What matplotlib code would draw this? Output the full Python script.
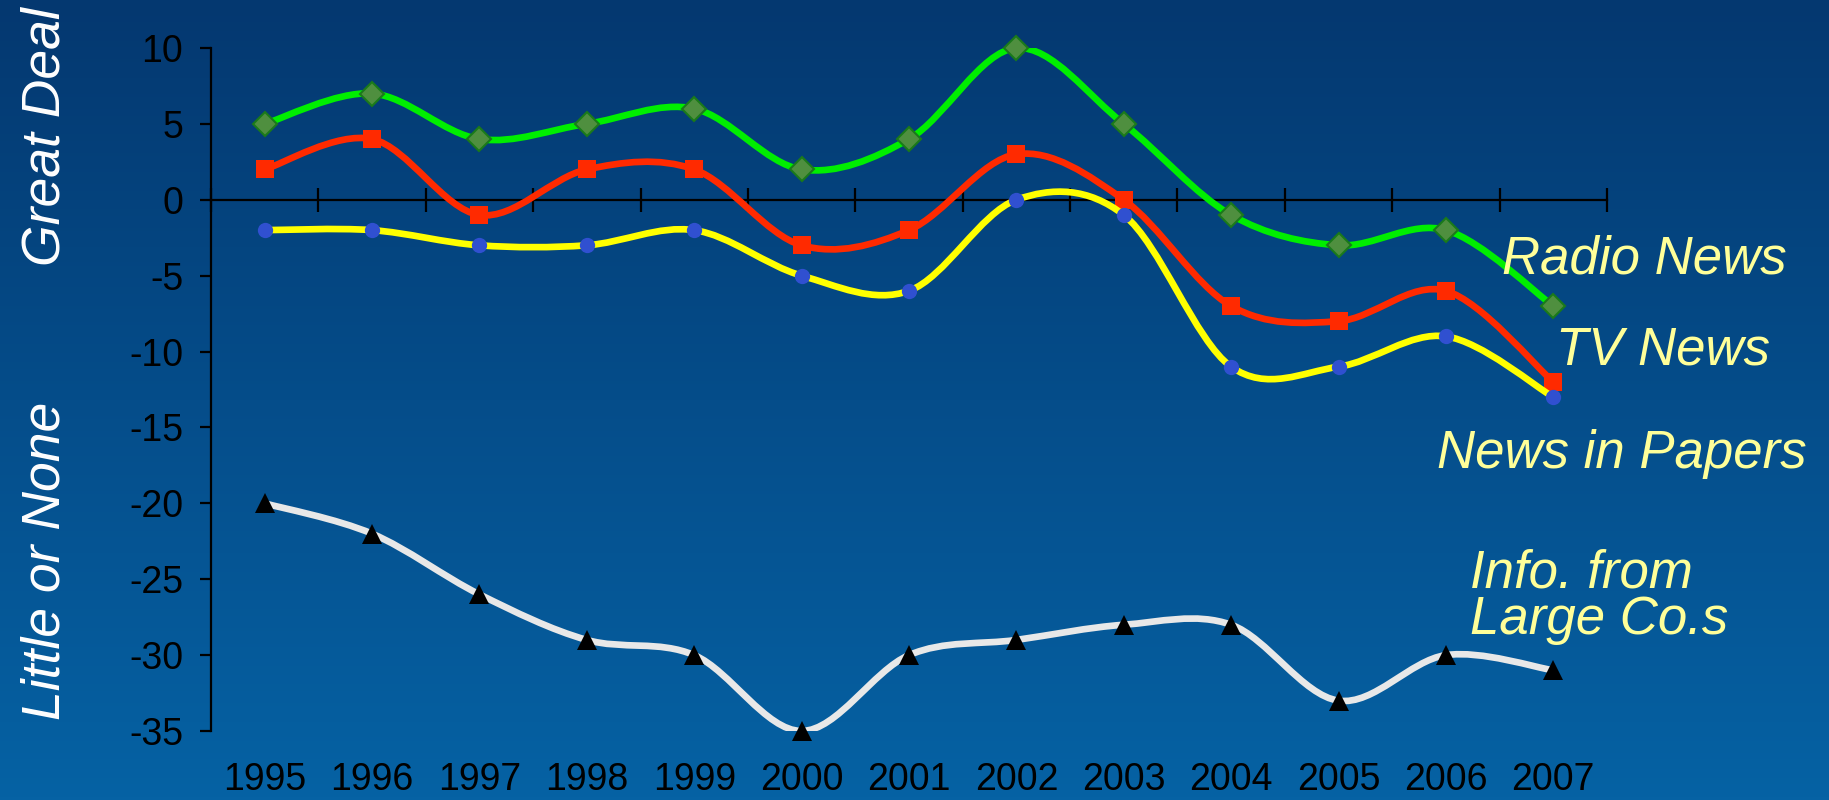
import numpy as np
import matplotlib
matplotlib.use("Agg")
import matplotlib.pyplot as plt
from matplotlib.path import Path
from matplotlib.patches import PathPatch

plt.rcParams['font.family'] = ['Liberation Sans', 'DejaVu Sans']

# ---- data ----
years = ["1995", "1996", "1997", "1998", "1999", "2000", "2001",
         "2002", "2003", "2004", "2005", "2006", "2007"]
radio_news = [5, 7, 4, 5, 6, 2, 4, 10, 5, -1, -3, -2, -7]
tv_news = [2, 4, -1, 2, 2, -3, -2, 3, 0, -7, -8, -6, -12]
news_in_papers = [-2, -2, -3, -3, -2, -5, -6, 0, -1, -11, -11, -9, -13]
info_large_cos = [-20, -22, -26, -29, -30, -35, -30, -29, -28, -28, -33, -30, -31]
y_ticks = [10, 5, 0, -5, -10, -15, -20, -25, -30, -35]
series_labels = ["Radio News", "TV News", "News in Papers", "Info. from\nLarge Co.s"]
side_labels = ["Great Deal", "Little or None"]

W, H = 1829, 800
fig = plt.figure(figsize=(W / 100, H / 100), dpi=100)

# gradient background
bg = fig.add_axes([0, 0, 1, 1], zorder=-10)
top = np.array([4, 56, 112]) / 255
bot = np.array([6, 98, 164]) / 255
t = np.linspace(0, 1, 256)[:, None]
grad = (top[None, :] * (1 - t) + bot[None, :] * t)[:, None, :]
bg.imshow(grad, aspect='auto', extent=[0, 1, 0, 1], origin='upper')
bg.axis('off')

L, R, T, B = 211, 1607, 48, 731
ax = fig.add_axes([L / W, 1 - B / H, (R - L) / W, (B - T) / H])
ax.patch.set_alpha(0)
ax.set_xlim(-0.5, len(years) - 0.5)
ax.set_ylim(-35, 10)

for s in ['top', 'right']:
    ax.spines[s].set_visible(False)
ax.spines['left'].set_linewidth(1.6)
ax.spines['bottom'].set_linewidth(1.6)
ax.spines['bottom'].set_position(('data', 0))

ax.set_yticks(y_ticks)
ax.set_yticklabels([str(v) for v in y_ticks], fontsize=27)
ax.tick_params(axis='y', direction='out', length=8, width=1.6, pad=12, colors='black')

ax.set_xticks(np.arange(-0.5, len(years), 1.0))
ax.set_xticklabels([])
ax.tick_params(axis='x', direction='inout', length=17, width=1.6)

xt = ax.get_xaxis_transform()
for i, yr in enumerate(years):
    ax.text(i, -(790 - B) / (B - T), yr, transform=xt, ha='center', va='baseline',
            fontsize=27, color='black')


def smooth_path(xs, ys):
    pts = np.column_stack([xs, ys]).astype(float)
    n = len(pts)
    verts = [pts[0]]
    codes = [Path.MOVETO]
    for i in range(n - 1):
        p0 = pts[i - 1] if i > 0 else pts[i]
        p1 = pts[i]
        p2 = pts[i + 1]
        p3 = pts[i + 2] if i + 2 < n else pts[i + 1]
        c1 = p1 + (p2 - p0) / 6.0
        c2 = p2 - (p3 - p1) / 6.0
        verts += [c1, c2, p2]
        codes += [Path.CURVE4] * 3
    return Path(verts, codes)


x = np.arange(len(years))
styles = [
    (radio_news, '#00ee00', dict(marker='D', ms=12.5, mfc='#4f8f3f', mec='#1a7a1a', mew=1.5)),
    (tv_news, '#ff2a00', dict(marker='s', ms=13, mfc='#ff2a00', mec='#ff2a00', mew=0)),
    (news_in_papers, '#ffff00', dict(marker='o', ms=11, mfc='#3050d0', mec='#3050d0', mew=0)),
    (info_large_cos, '#e8e8e8', dict(marker='^', ms=14, mfc='black', mec='black', mew=0)),
]
for k, (vals, col, mk) in enumerate(styles):
    patch = PathPatch(smooth_path(x, vals), fill=False, edgecolor=col, lw=4.8,
                      capstyle='round', joinstyle='round', zorder=3 + 2 * k)
    ax.add_patch(patch)
    ax.plot(x, vals, linestyle='none', zorder=4 + 2 * k, clip_on=False, **mk)

lab_col = '#ffff99'
lab_pos = [(1502, 274), (1556, 364), (1437, 468), (1470, 588)]
for txt, (px, py) in zip(series_labels, lab_pos):
    if '\n' in txt:
        l1, l2 = txt.split('\n')
        fig.text(px / W, 1 - py / H, l1, fontsize=38, style='italic', color=lab_col,
                 ha='left', va='baseline')
        fig.text(px / W, 1 - 634 / H, l2, fontsize=38, style='italic', color=lab_col,
                 ha='left', va='baseline')
    else:
        fig.text(px / W, 1 - py / H, txt, fontsize=38, style='italic', color=lab_col,
                 ha='left', va='baseline')

fig.text(46 / W, 1 - 137 / H, side_labels[0], rotation=90, fontsize=38.5, style='italic',
         color='white', ha='center', va='center')
fig.text(46 / W, 1 - 561 / H, side_labels[1], rotation=90, fontsize=38.5, style='italic',
         color='white', ha='center', va='center')

fig.savefig('out.png', dpi=100)
